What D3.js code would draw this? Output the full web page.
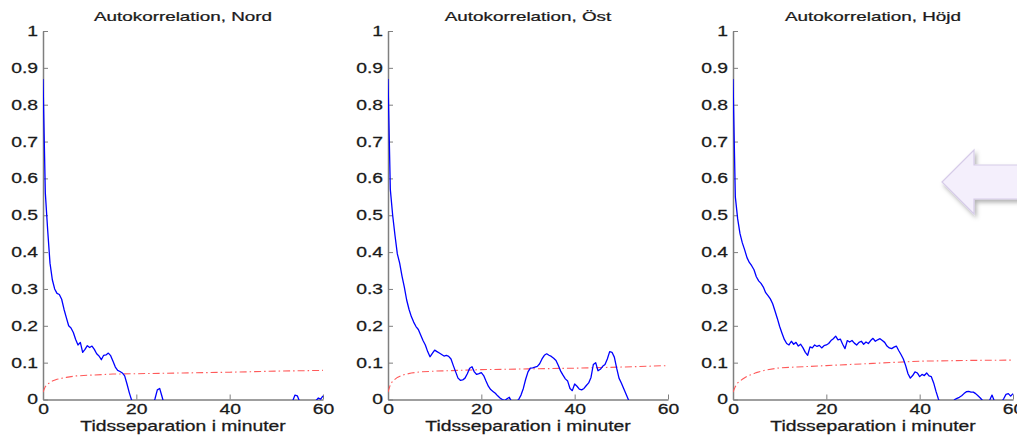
<!DOCTYPE html>
<html>
<head>
<meta charset="utf-8">
<script src="https://cdn.jsdelivr.net/npm/d3@7"></script>
<style>
  body { margin: 0; background: #fff; }
  svg { display: block; }
  text { font-family: "Liberation Sans", Arial, Helvetica, sans-serif; fill: #1a1a1a; stroke: #1a1a1a; stroke-width: 0.25px; }
</style>
</head>
<body>
<svg id="chart" width="1017" height="435"></svg>
<script>
// --- data ---
const panelTitles = ["Autokorrelation, Nord", "Autokorrelation, Öst", "Autokorrelation, Höjd"];
const xLabel = "Tidsseparation i minuter";
const xTicks = [0, 20, 40, 60];
const yTicks = [0, 0.1, 0.2, 0.3, 0.4, 0.5, 0.6, 0.7, 0.8, 0.9, 1];
const yTickLabels = ["0", "0.1", "0.2", "0.3", "0.4", "0.5", "0.6", "0.7", "0.8", "0.9", "1"];

// sampling grid of the autocorrelation, every half minute
const lagMinutes = d3.range(0, 60.25, 0.5);

const acfNord = [
  0.87, 0.56, 0.46, 0.37, 0.325, 0.300, 0.288, 0.285, 0.272, 0.245,
  0.222, 0.200, 0.194, 0.182, 0.163, 0.148, 0.155, 0.128, 0.136, 0.146,
  0.141, 0.145, 0.136, 0.124, 0.118, 0.108, 0.120, 0.121, 0.126, 0.119,
  0.104, 0.088, 0.079, 0.076, 0.072, 0.064, 0.042, 0.018, -0.002, -0.020,
  -0.035, -0.045, -0.052, -0.055, -0.050, -0.042, -0.030, -0.015, 0.002, 0.026,
  0.030, 0.008, -0.015, -0.030, -0.040, -0.045, -0.050, -0.056, -0.060, -0.058,
  -0.062, -0.066, -0.070, -0.068, -0.064, -0.060, -0.063, -0.067, -0.070, -0.072,
  -0.069, -0.065, -0.060, -0.058, -0.061, -0.066, -0.070, -0.068, -0.063, -0.058,
  -0.055, -0.057, -0.060, -0.056, -0.050, -0.046, -0.048, -0.052, -0.050, -0.045,
  -0.040, -0.038, -0.041, -0.044, -0.042, -0.037, -0.033, -0.035, -0.038, -0.034,
  -0.030, -0.028, -0.026, -0.022, -0.020, -0.018, -0.010, -0.004, 0.012, 0.010,
  -0.006, -0.020, -0.025, -0.020, -0.015, -0.010, -0.006, -0.003, 0.004, 0.001,
  0.010
];

const acfOst = [
  0.87, 0.57, 0.50, 0.445, 0.395, 0.370, 0.335, 0.305, 0.270, 0.245,
  0.225, 0.210, 0.198, 0.190, 0.175, 0.160, 0.148, 0.130, 0.116, 0.125,
  0.134, 0.130, 0.126, 0.122, 0.118, 0.120, 0.117, 0.110, 0.092, 0.075,
  0.058, 0.052, 0.053, 0.058, 0.070, 0.085, 0.089, 0.075, 0.068, 0.070,
  0.073, 0.065, 0.050, 0.036, 0.027, 0.022, 0.017, 0.010, 0.004, 0.000,
  -0.003, 0.002, 0.006, -0.006, -0.012, -0.006, 0.000, 0.012, 0.030, 0.055,
  0.075, 0.085, 0.086, 0.088, 0.090, 0.097, 0.110, 0.120, 0.124, 0.120,
  0.117, 0.112, 0.106, 0.092, 0.077, 0.066, 0.056, 0.050, 0.030, 0.024,
  0.042, 0.036, 0.028, 0.026, 0.030, 0.038, 0.045, 0.060, 0.095, 0.100,
  0.078, 0.082, 0.090, 0.095, 0.110, 0.130, 0.128, 0.115, 0.085, 0.058,
  0.045, 0.030, 0.015, 0.000, -0.020, -0.035, -0.050, -0.060, -0.070, -0.075,
  -0.080, -0.083, -0.085, -0.088, -0.090, -0.090, -0.092, -0.090, -0.088, -0.087,
  -0.085
];

const acfHojd = [
  0.87, 0.55, 0.49, 0.45, 0.425, 0.406, 0.385, 0.372, 0.363, 0.352,
  0.333, 0.322, 0.315, 0.305, 0.290, 0.282, 0.273, 0.260, 0.240, 0.220,
  0.198, 0.180, 0.163, 0.152, 0.148, 0.158, 0.150, 0.155, 0.145, 0.150,
  0.140, 0.128, 0.120, 0.143, 0.140, 0.148, 0.144, 0.147, 0.140, 0.146,
  0.148, 0.152, 0.160, 0.165, 0.172, 0.162, 0.164, 0.150, 0.138, 0.160,
  0.156, 0.160, 0.153, 0.148, 0.155, 0.158, 0.150, 0.156, 0.152, 0.160,
  0.166, 0.158, 0.162, 0.165, 0.160, 0.155, 0.145, 0.140, 0.138, 0.142,
  0.145, 0.133, 0.122, 0.110, 0.092, 0.070, 0.058, 0.065, 0.075, 0.072,
  0.062, 0.068, 0.065, 0.072, 0.064, 0.062, 0.045, 0.022, 0.002, -0.015,
  -0.025, -0.030, -0.028, -0.020, -0.010, 0.000, 0.003, 0.006, 0.010, 0.016,
  0.021, 0.022, 0.020, 0.020, 0.016, 0.010, 0.004, -0.003, -0.010, -0.006,
  -0.002, 0.012, -0.004, -0.010, -0.012, -0.008, 0.002, 0.014, 0.016, 0.009,
  0.016
];

// red dash-dot reference level
const boundLags = [0, 0.5, 1, 2, 3, 5, 7, 10, 15, 20, 30, 40, 50, 60];
const boundNord = [0.020, 0.035, 0.042, 0.050, 0.055, 0.060, 0.064, 0.066, 0.069, 0.070, 0.072, 0.074, 0.077, 0.079];
const boundOst  = [0.020, 0.040, 0.050, 0.060, 0.066, 0.072, 0.075, 0.077, 0.079, 0.081, 0.083, 0.085, 0.088, 0.092];
const boundHojd = [0.020, 0.035, 0.045, 0.055, 0.063, 0.073, 0.080, 0.086, 0.089, 0.092, 0.098, 0.104, 0.106, 0.107];

const acfSeries = [acfNord, acfOst, acfHojd];
const boundSeries = [boundNord, boundOst, boundHojd];

// --- layout ---
const panelLeft = [43, 388, 733];
const panelW = 280;
const plotTop = 31, plotBottom = 399.5;
const stretch = 1.38; // the reference text is drawn horizontally widened

const svg = d3.select("#chart");

const defs = svg.append("defs");
const shadow = defs.append("filter").attr("id", "shadow")
  .attr("x", "-20%").attr("y", "-20%").attr("width", "150%").attr("height", "160%");
shadow.append("feDropShadow")
  .attr("dx", 2).attr("dy", 3).attr("stdDeviation", 2)
  .attr("flood-color", "#000").attr("flood-opacity", 0.3);

panelTitles.forEach((title, i) => {
  const x0 = panelLeft[i];
  const g = svg.append("g").attr("transform", `translate(${x0},0)`);

  const x = d3.scaleLinear().domain([0, 60]).range([0, panelW]);
  const y = d3.scaleLinear().domain([0, 1]).range([plotBottom, plotTop]);

  defs.append("clipPath").attr("id", `clip${i}`)
    .append("rect").attr("x", 0).attr("y", plotTop - 1)
    .attr("width", panelW + 1).attr("height", plotBottom - plotTop + 1.5);

  // y axis
  const ya = g.append("g")
    .call(d3.axisLeft(y).tickValues(yTicks).tickFormat((d, k) => yTickLabels[k])
      .tickSizeInner(-5).tickSizeOuter(0).tickPadding(5));
  // x axis
  const xa = g.append("g").attr("transform", `translate(0,${plotBottom})`)
    .call(d3.axisBottom(x).tickValues(xTicks)
      .tickSizeInner(-5).tickSizeOuter(0).tickPadding(5));

  [ya, xa].forEach(a => {
    a.attr("font-family", null).attr("font-size", null);
    a.select(".domain").attr("stroke", "#7f7f7f").attr("stroke-width", 1.5);
    a.selectAll(".tick line").attr("stroke", "#7f7f7f").attr("stroke-width", 1);
    a.selectAll("text").attr("font-size", 14).attr("fill", "#1a1a1a");
  });
  ya.selectAll("text").attr("x", -5 / stretch).attr("transform", `scale(${stretch},1)`);
  xa.selectAll("text").attr("transform", `scale(${stretch},1)`);

  const plot = g.append("g").attr("clip-path", `url(#clip${i})`);

  // red dash-dot level
  const bound = boundSeries[i];
  plot.append("path")
    .datum(boundLags.map((t, k) => [t, bound[k]]))
    .attr("fill", "none")
    .attr("stroke", "#ff5a5a")
    .attr("stroke-width", 1.1)
    .attr("stroke-dasharray", "7,3,1.5,3")
    .attr("d", d3.line().x(d => x(d[0])).y(d => y(d[1])));

  // blue autocorrelation
  const acf = acfSeries[i];
  plot.append("path")
    .datum(lagMinutes.map((t, k) => [t, acf[k]]))
    .attr("fill", "none")
    .attr("stroke", "#0000ff")
    .attr("stroke-width", 1.3)
    .attr("stroke-linejoin", "round")
    .attr("d", d3.line().x(d => x(d[0])).y(d => y(d[1])));

  // title
  g.append("text")
    .attr("transform", `translate(${panelW / 2},21) scale(1.45,1)`)
    .attr("text-anchor", "middle")
    .attr("font-size", 13)
    .text(title);

  // x label
  g.append("text")
    .attr("transform", `translate(${panelW / 2},431) scale(${stretch},1)`)
    .attr("text-anchor", "middle")
    .attr("font-size", 14)
    .text(xLabel);
});

// pale left-pointing arrow at the right edge
svg.append("path")
  .attr("d", "M942,182 L974,150 L974,165 L1030,165 L1030,199 L974,199 L974,214 Z")
  .attr("fill", "#f4effc")
  .attr("stroke", "#d6cbe8")
  .attr("stroke-width", 1.2)
  .attr("filter", "url(#shadow)");
</script>
</body>
</html>
